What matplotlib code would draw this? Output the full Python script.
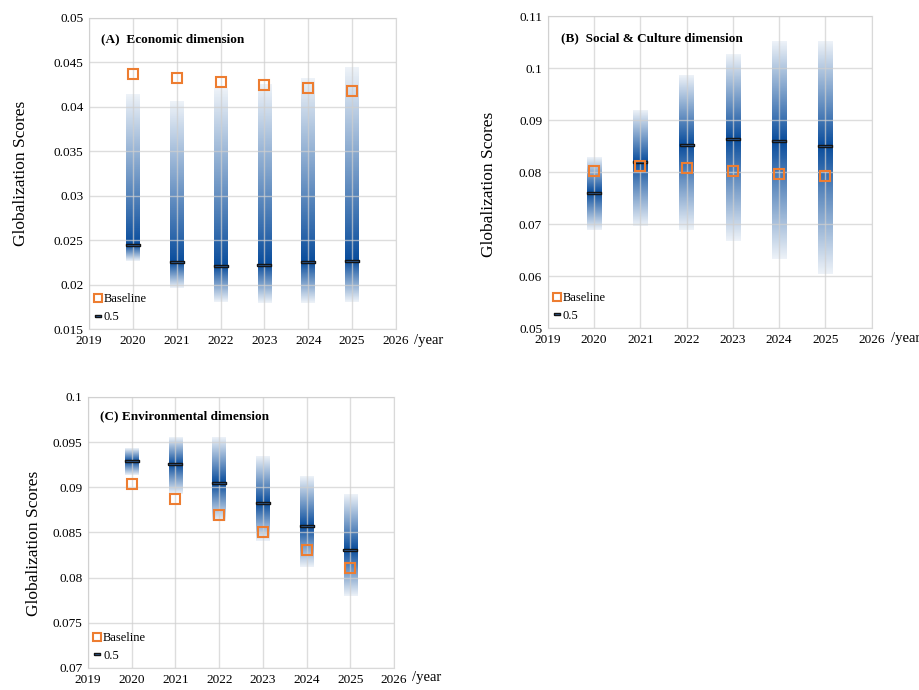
import numpy as np
import matplotlib
matplotlib.use("Agg")
import matplotlib.pyplot as plt
from matplotlib.colors import to_rgb

plt.rcParams["font.family"] = ["Liberation Serif", "DejaVu Serif"]

years = [2020, 2021, 2022, 2023, 2024, 2025]

# (A) Economic dimension
eco_low = [0.0227, 0.0196, 0.0181, 0.0179, 0.0179, 0.0180]
eco_high = [0.0414, 0.0406, 0.0421, 0.0425, 0.0432, 0.0444]
eco_med = [0.0245, 0.0225, 0.0221, 0.0222, 0.0225, 0.0227]
eco_base = [0.0437, 0.0432, 0.0428, 0.0425, 0.0421, 0.0418]

# (B) Social & Culture dimension
soc_low = [0.0688, 0.0697, 0.0688, 0.0668, 0.0633, 0.0604]
soc_high = [0.0827, 0.0919, 0.0985, 0.1026, 0.1051, 0.1051]
soc_med = [0.0760, 0.0820, 0.0852, 0.0864, 0.0859, 0.0850]
soc_base = [0.0803, 0.0811, 0.0807, 0.0803, 0.0797, 0.0792]

# (C) Environmental dimension
env_low = [0.0914, 0.0893, 0.0863, 0.0840, 0.0812, 0.0780]
env_high = [0.0943, 0.0956, 0.0955, 0.0934, 0.0912, 0.0892]
env_med = [0.0929, 0.0926, 0.0905, 0.0882, 0.0857, 0.0831]
env_base = [0.0903, 0.0887, 0.0869, 0.0851, 0.0831, 0.0811]

blue = to_rgb("#084c9c")
orange = "#ed7d31"
bar_w = 0.31
med_marker = [(-1, -0.17), (1, -0.17), (1, 0.17), (-1, 0.17), (-1, -0.17)]


def fan_panel(ax, low, high, med, base, title, ylim, ystep):
    for x, lo, hi, m in zip(years, low, high, med):
        y = np.linspace(lo, hi, 400)
        t = np.where(y >= m, (y - m) / (hi - m), (m - y) / (m - lo))
        alpha = 0.07 + 0.93 * (1 - t) ** 1.0
        img = np.zeros((400, 1, 4))
        img[:, 0, :3] = blue
        img[:, 0, 3] = alpha
        ax.imshow(img, extent=[x - bar_w / 2, x + bar_w / 2, lo, hi],
                  origin="lower", aspect="auto", interpolation="bilinear", zorder=1)
    ax.plot(years, med, linestyle="none", marker=med_marker, markersize=10,
            markerfacecolor="#2f66ab", markeredgecolor="#151515",
            markeredgewidth=1.0, label="0.5", zorder=5)
    ax.plot(years, base, linestyle="none", marker="s", markersize=6.5,
            markerfacecolor="none", markeredgecolor=orange,
            markeredgewidth=1.5, label="Baseline", zorder=6)
    ax.set_xlim(2019, 2026)
    ax.set_ylim(*ylim)
    ax.set_xticks(range(2019, 2027))
    ax.set_yticks(np.arange(ylim[0], ylim[1] + ystep / 2, ystep))
    ax.yaxis.set_major_formatter(plt.FuncFormatter(lambda v, p: f"{v:.3f}".rstrip("0")))
    ax.grid(True, color="#cfcfcf", alpha=0.7, linewidth=1)
    ax.set_axisbelow(False)
    ax.tick_params(length=0, labelsize=9.5, pad=4)
    for s in ax.spines.values():
        s.set_color("#d9d9d9")
    ax.set_ylabel("Globalization Scores", fontsize=12.5)
    ax.text(0.04, 0.93, title, transform=ax.transAxes, fontsize=9.5,
            fontweight="bold", va="center")
    ax.text(1.06, -0.035, "/year", transform=ax.transAxes, fontsize=10.5, va="center")
    h, l = ax.get_legend_handles_labels()
    leg = ax.legend(h[::-1], l[::-1], loc="lower left", frameon=False, fontsize=9,
                    handlelength=0.5, handletextpad=0.2, labelspacing=0.45,
                    borderaxespad=0.3, borderpad=0.2)
    leg.legend_handles[0].set_markersize(6)
    leg.legend_handles[1].set_markersize(5)


fig = plt.figure(figsize=(9.19, 6.9), dpi=100)
axA = fig.add_axes([0.0968, 0.523, 0.334, 0.451])
axB = fig.add_axes([0.596, 0.5246, 0.3526, 0.452])
axC = fig.add_axes([0.0958, 0.0319, 0.333, 0.393])

fan_panel(axA, eco_low, eco_high, eco_med, eco_base,
          "(A)  Economic dimension", (0.015, 0.05), 0.005)
fan_panel(axB, soc_low, soc_high, soc_med, soc_base,
          "(B)  Social & Culture dimension", (0.05, 0.11), 0.01)
fan_panel(axC, env_low, env_high, env_med, env_base,
          "(C) Environmental dimension", (0.07, 0.1), 0.005)

axA.yaxis.set_label_coords(-0.194, 0.5)
axB.yaxis.set_label_coords(-0.156, 0.46)
axC.yaxis.set_label_coords(-0.15, 0.46)

fig.savefig("out.png", dpi=100)
